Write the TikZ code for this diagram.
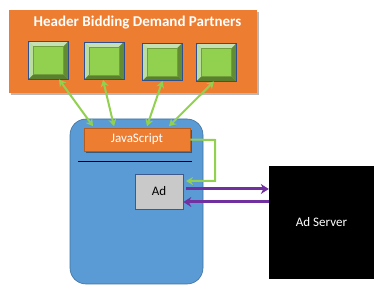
\documentclass[tikz,border=0pt]{standalone}
\usepackage{fontspec}
\setmainfont{Carlito}
\usetikzlibrary{arrows.meta,calc}
\definecolor{orng}{HTML}{ED7D31}
\definecolor{orngdk}{HTML}{B85C1E}
\definecolor{lgreen}{HTML}{92D050}
\definecolor{bevlight}{HTML}{C5E0B4}
\definecolor{bevdark}{HTML}{5A7F2E}
\definecolor{sqborder}{HTML}{2F4F8F}
\definecolor{pageblue}{HTML}{5B9BD5}
\definecolor{pageborder}{HTML}{41719C}
\definecolor{adgray}{HTML}{C9C9C9}
\definecolor{purp}{HTML}{7030A0}
\definecolor{shadowgray}{HTML}{B8B8B8}
\tikzset{
  sqnode/.style={draw=sqborder, line width=0.8pt, fill=lgreen, minimum width=39pt, minimum height=37pt, inner sep=0pt},
  garrow/.style={draw=lgreen, line width=2pt, {Stealth[length=7pt,width=8pt]}-{Stealth[length=7pt,width=8pt]}},
  gelbow/.style={draw=lgreen, line width=2pt, -{Stealth[length=7pt,width=8pt]}},
  parrow/.style={draw=purp, line width=3pt, -{Stealth[length=8pt,width=10pt]}},
  wtext/.style={text=white, font=\fontsize{13}{15}\selectfont},
}
\newcommand\bevelsq[1]{%
  \fill[bevlight] (#1.north west) -- (#1.north east) -- ($(#1.north east)+(-5,5)$) -- ($(#1.north west)+(5,5)$) -- cycle;
  \fill[bevlight!80!lgreen] (#1.north west) -- ($(#1.north west)+(5,5)$) -- ($(#1.south west)+(5,-5)$) -- (#1.south west) -- cycle;
  \fill[bevdark] (#1.south west) -- ($(#1.south west)+(5,-5)$) -- ($(#1.south east)+(-5,-5)$) -- (#1.south east) -- cycle;
  \fill[bevdark!85!lgreen] (#1.north east) -- (#1.south east) -- ($(#1.south east)+(-5,-5)$) -- ($(#1.north east)+(-5,5)$) -- cycle;
  \draw[draw=bevdark!60!lgreen, line width=0.6pt, fill=lgreen] ($(#1.north west)+(5,5)$) rectangle ($(#1.south east)+(-5,-5)$);
  \draw[sqborder, line width=0.8pt] (#1.north west) rectangle (#1.south east);
}
\begin{document}
\begin{tikzpicture}[x=1pt,y=-1pt]
\useasboundingbox (0,0) rectangle (386,291);
% demand partners panel
\fill[shadowgray] (11,12) rectangle (259,95);
\node[fill=orng, minimum width=248pt, minimum height=83pt, inner sep=0pt, anchor=north west] (partners) at (9,10) {};
\node[text=white, font=\bfseries\fontsize{15}{17}\selectfont] (title) at (137.5,23) {Header Bidding Demand Partners};
\node[sqnode] (p1) at (48.5,60.5) {};
\node[sqnode] (p2) at (104,61) {};
\node[sqnode] (p3) at (162.5,62) {};
\node[sqnode] (p4) at (216.5,62.5) {};
\bevelsq{p1}\bevelsq{p2}\bevelsq{p3}\bevelsq{p4}
% web page
\node[draw=pageborder, line width=0.6pt, fill=pageblue, rounded corners=16pt, minimum width=133pt, minimum height=165pt, inner sep=0pt] (page) at (136.5,201.5) {};
\fill[pageborder!80!black] (86,130) rectangle (192,153);
\node[draw=orngdk, line width=0.6pt, fill=orng, minimum width=106pt, minimum height=23pt, inner sep=0pt, wtext] (js) at (137,139.5) {JavaScript};
\coordinate (ruleL) at (78,162);
\coordinate (ruleR) at (192,162);
\draw[black, line width=1pt] (ruleL) -- (ruleR);
\node[draw=sqborder!80!gray, line width=0.7pt, fill=adgray, minimum width=48pt, minimum height=35pt, inner sep=0pt, font=\fontsize{13}{15}\selectfont] (ad) at (159,191.5) {Ad};
% ad server
\node[fill=black, minimum width=105pt, minimum height=113pt, inner sep=0pt, wtext] (server) at (321.5,222.5) {Ad Server};
% connectors
\draw[garrow] ([xshift=10.5pt]p1.south) -- ([xshift=-44pt,yshift=1.5pt]js.north);
\draw[garrow] ([xshift=-1pt]p2.south) -- ([xshift=-23pt,yshift=1.5pt]js.north);
\draw[garrow] ([xshift=0pt]p3.south) -- ([xshift=10pt,yshift=1.5pt]js.north);
\draw[garrow] ([xshift=-2.5pt]p4.south) -- ([xshift=32pt,yshift=1.5pt]js.north);
\coordinate (elb1) at (215,140);
\coordinate (elb2) at (215,181);
\coordinate (elbend) at (186,181);
\draw[gelbow] (js.east) -- (elb1) -- (elb2) -- (elbend);
\coordinate (outstart) at (186,189);
\draw[parrow] (outstart) -- (server.west |- outstart);
\coordinate (retstart) at (269,202);
\draw[parrow] (retstart) -- (ad.east |- retstart);
\end{tikzpicture}
\end{document}
